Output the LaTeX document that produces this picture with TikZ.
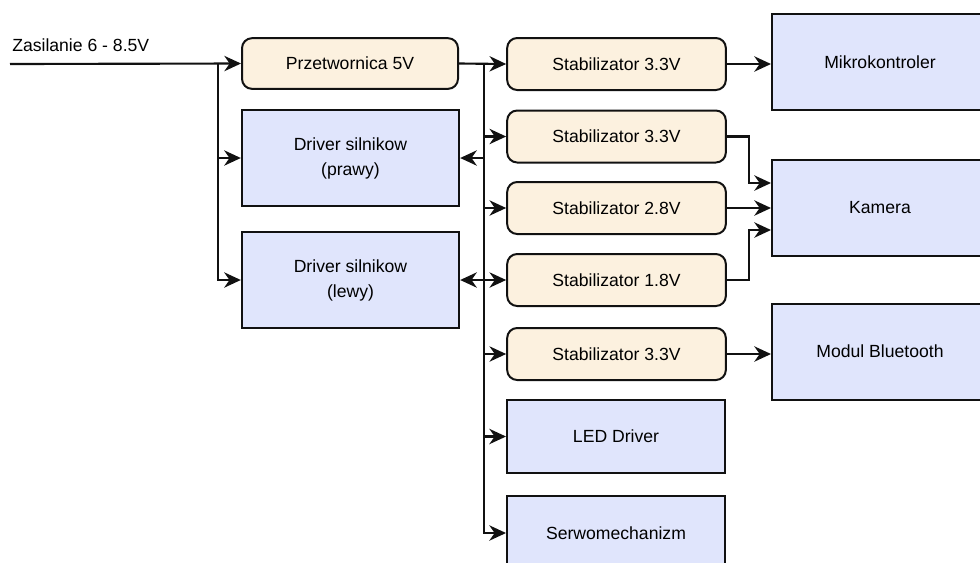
\documentclass[tikz,border=0pt]{standalone}
\usepackage{fontspec}
\setmainfont{Liberation Sans}
\usetikzlibrary{positioning,arrows.meta,calc}
\definecolor{regfill}{HTML}{FCF1DF}
\definecolor{unitfill}{HTML}{E0E5FC}
\definecolor{ink}{HTML}{111111}
\tikzset{
  reg/.style  = {draw=ink, fill=regfill, rounded corners=7.5pt, line width=1.5pt,
                 inner sep=0pt, minimum width=164pt, minimum height=39pt},
  unit/.style = {draw=ink, fill=unitfill, line width=1.5pt, inner sep=0pt,
                 align=center, minimum width=163pt, minimum height=72pt},
  wire/.style = {->, draw=ink, line width=1.6pt, >={Stealth[length=12.5pt, width=11.5pt, inset=4pt]}},
}

\begin{document}
\begin{tikzpicture}[x=0.75pt, y=-0.75pt, font=\fontsize{13.2}{18.8}\selectfont]
    \useasboundingbox (0,0) rectangle (980,562);
    % zasilanie i przetwornica
    \node[anchor=west, inner sep=0pt] (zas) at (12,45) {Zasilanie 6 - 8.5V};
    \coordinate (src) at (10,64);
    \coordinate (split) at (218,64);
    \node[reg, minimum width=162pt, minimum height=38pt] (prz) at (350,63.5) {Przetwornica 5V};
    \node[unit] (drvP) at (350.5,158) {Driver silnikow\\(prawy)};
    \node[unit] (drvL) at (350.5,280) {Driver silnikow\\(lewy)};
    % stabilizatory
    \foreach \n/\y/\lab in {stab1/64/{3.3V}, stab2/136.5/{3.3V}, stab3/208/{2.8V},
                            stab4/280/{1.8V}, stab5/354/{3.3V}}
      \node[reg] (\n) at (616.5,\y) {Stabilizator \lab};
    \node[unit, minimum width=163.5pt, minimum height=55pt] (led) at (616,436.5) {LED Driver};
    \node[unit, minimum width=163.5pt, minimum height=55pt] (serwo) at (616,533) {Serwomechanizm};
    % odbiorniki
    \node[unit, minimum width=162pt] (mcu) at (880,62) {Mikrokontroler};
    \node[unit, minimum width=162pt] (kam) at (880,207.5) {Kamera};
    \node[unit, minimum width=162pt] (bt) at (880,351.5) {Modul Bluetooth};
    % polaczenia
    \draw[wire] (src) -- (prz.west);
    \draw[wire] (split) |- (drvP.west);
    \draw[wire] (split) |- (drvL.west);
    \coordinate (bus) at (484,64);
    \draw[wire] (prz.east) -- (stab1.west);
    \draw[wire] (bus) |- (serwo.west);
    \foreach \n in {stab2,stab3,stab5,led}
      \draw[wire] (bus) |- (\n.west);
    \draw[wire] (drvP.east -| bus) -- (drvP.east);
    \draw[wire, <->] (drvL.east) -- (stab4.west);
    \draw[wire] (stab1.east) -- (stab1.east -| mcu.west);
    \draw[wire] (stab2.east) -- ++(22,0) |- ($(kam.west)+(0,-24.5)$);
    \draw[wire] (stab3.east) -- (stab3.east -| kam.west);
    \draw[wire] (stab4.east) -- ++(22,0) |- ($(kam.west)+(0,22.5)$);
    \draw[wire] (stab5.east) -- (stab5.east -| bt.west);
  \end{tikzpicture}
\end{document}
